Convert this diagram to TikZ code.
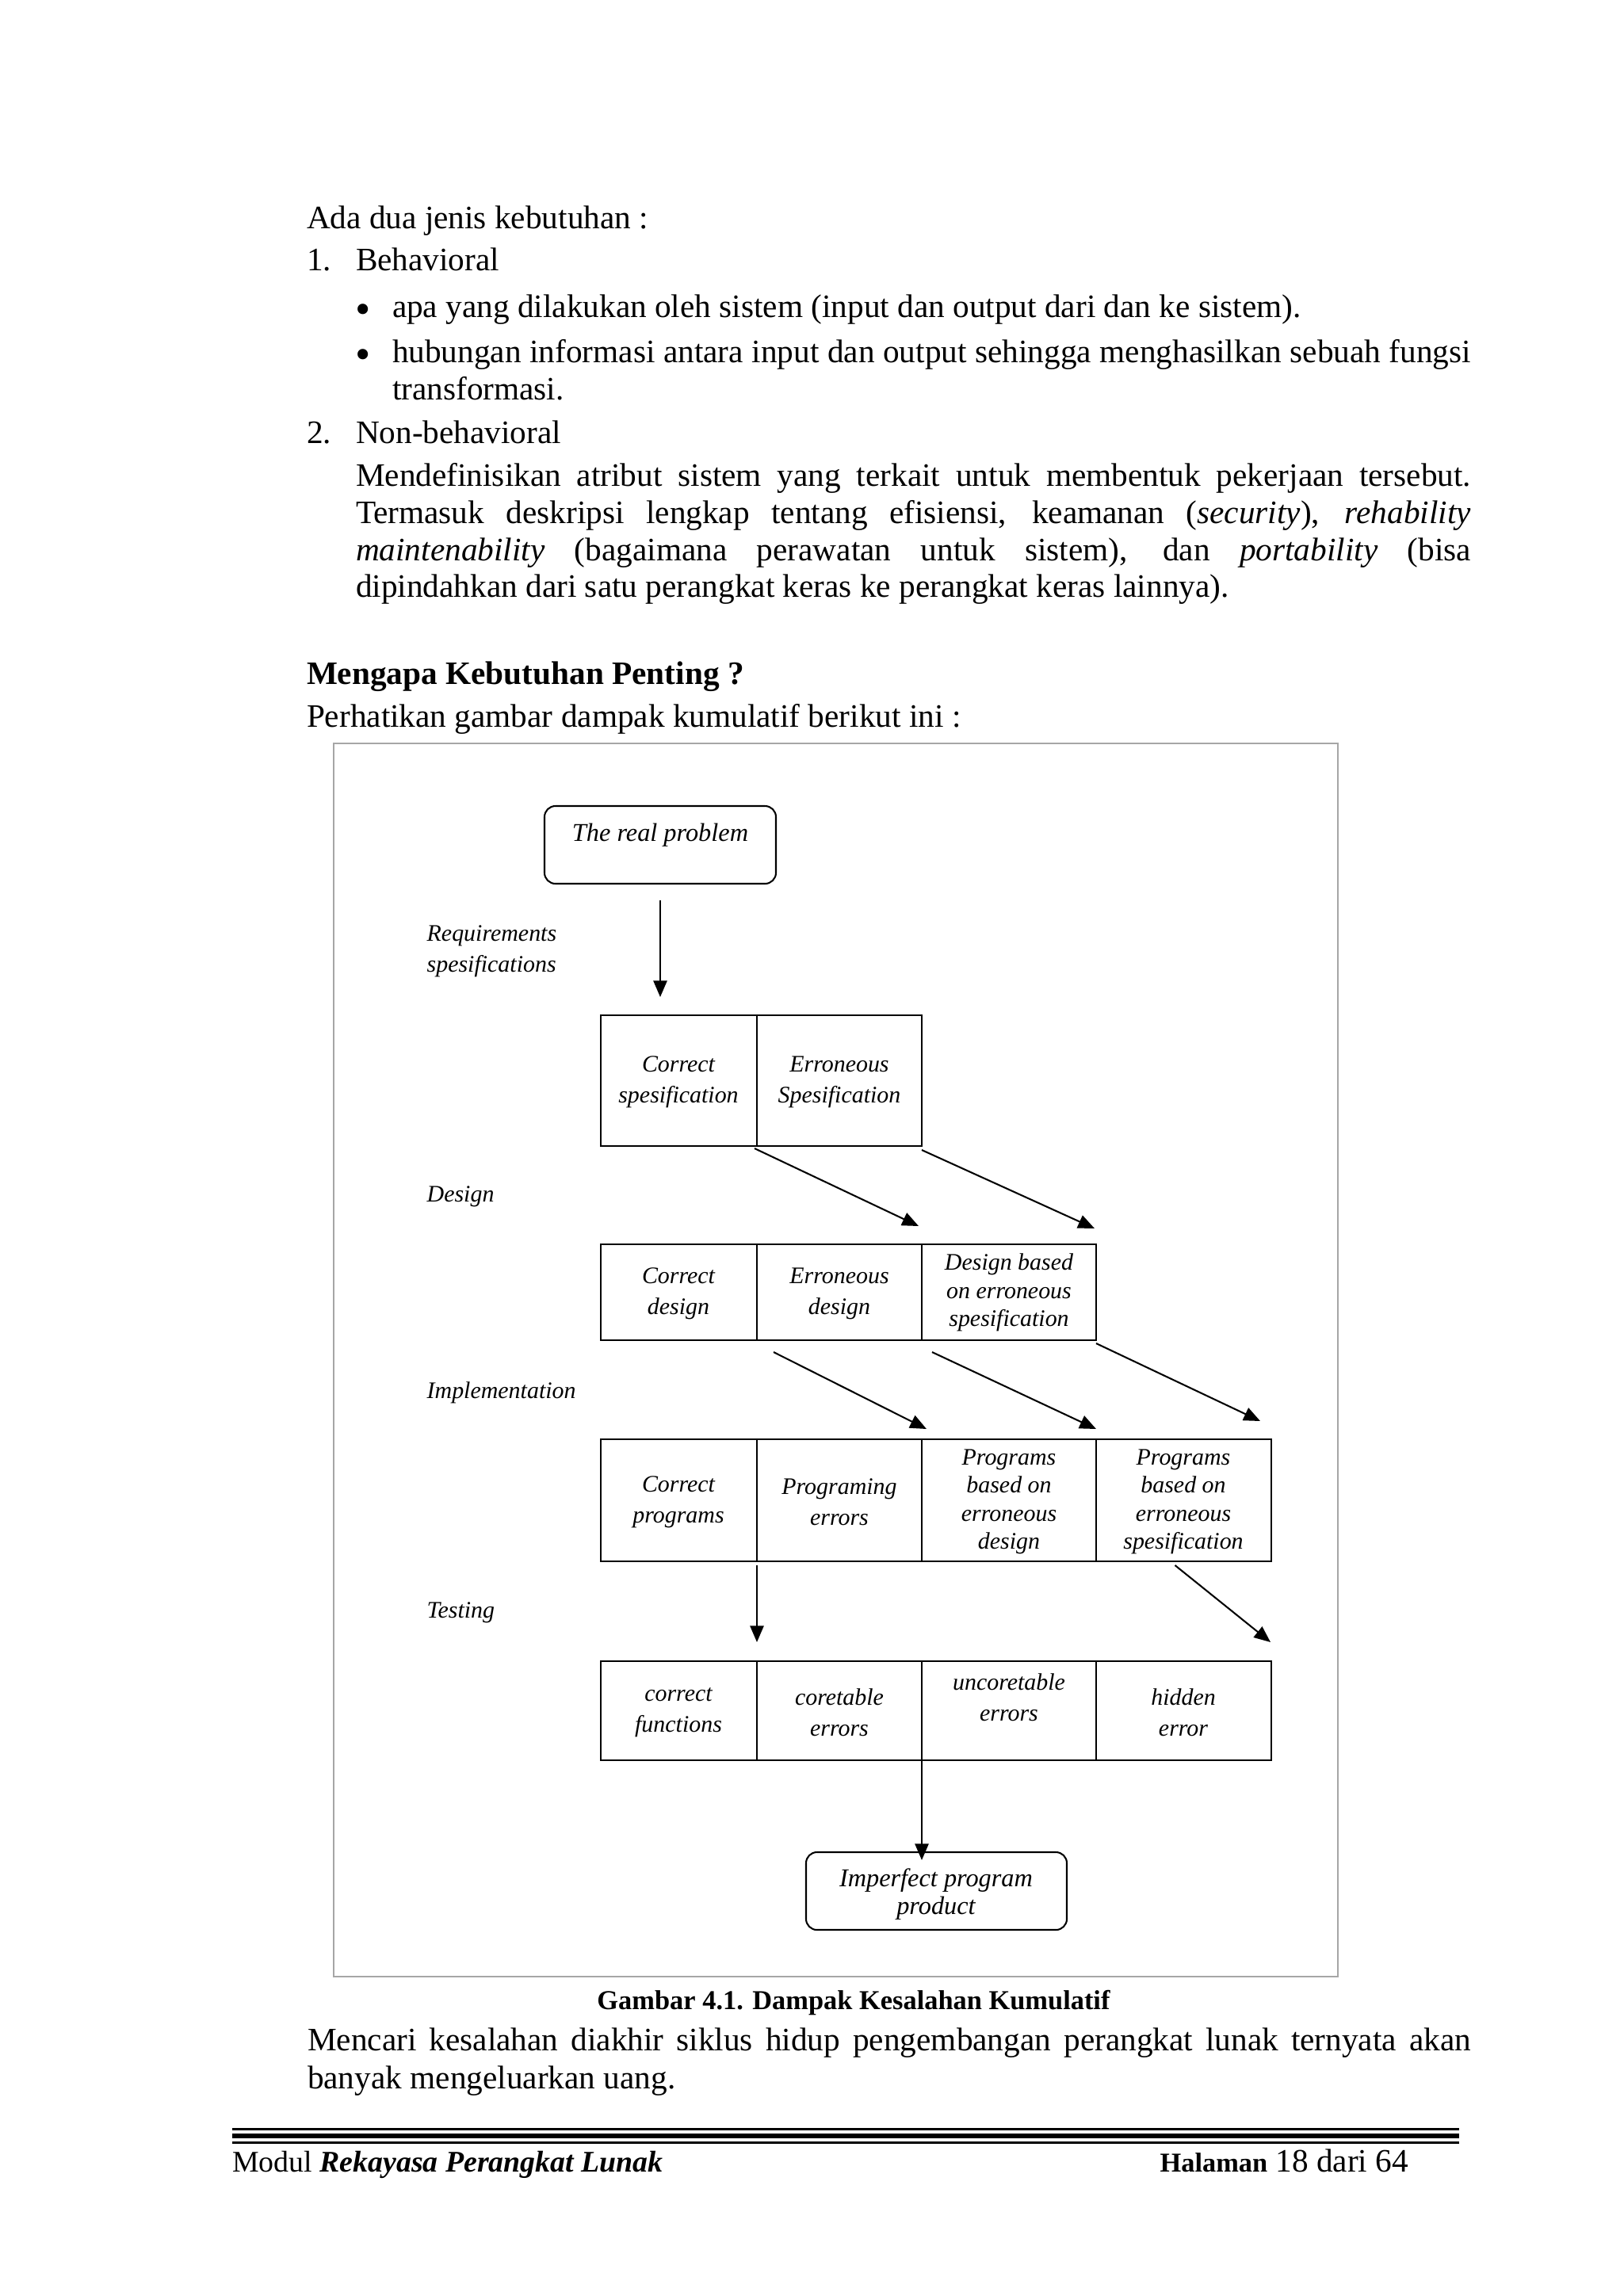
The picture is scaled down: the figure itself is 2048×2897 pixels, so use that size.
\documentclass[tikz,border=0pt]{standalone}
\usepackage{fontspec}
\setmainfont{Liberation Serif}
\usetikzlibrary{arrows.meta,calc}
\newdimen\pxu \pxu=0.290664pt
\begin{document}
\begin{tikzpicture}[x=0.290664pt, y=-0.290664pt,
  txt/.style={inner sep=0pt, outer sep=0pt, anchor=base west, font=\fontsize{12}{14}\selectfont},
  bul/.style={inner sep=0pt, outer sep=0pt, anchor=center, font=\fontsize{16}{16}\selectfont},
  cell/.style={draw, line width=0.6pt, inner sep=0pt, outer sep=0pt, anchor=north west},
  rbox/.style={draw, line width=0.6pt, rounded corners=4pt, inner sep=0pt, outer sep=0pt, anchor=north west},
  dlab/.style={font=\fontsize{8.7}{11.3}\selectfont\itshape, align=center, inner sep=0pt},
  dlabt/.style={font=\fontsize{8.7}{10.3}\selectfont\itshape, align=center, inner sep=0pt},
  slab/.style={font=\fontsize{8.7}{11.3}\selectfont\itshape, align=left, inner sep=0pt, anchor=west},
  blab/.style={font=\fontsize{9.4}{10.4}\selectfont\itshape, align=center, inner sep=0pt},
  arr/.style={-{Triangle[length=6pt,width=5pt]}, line width=0.6pt}]
\fill[white] (0,0) rectangle (2048,2897);
\useasboundingbox (0,0) rectangle (2048,2897);

% ---- body text ----
\node[txt] (l1) at (387,288) {Ada dua jenis kebutuhan :};
\node[txt] (l2n) at (387,341) {1.};
\node[txt] (l2) at (449,341) {Behavioral};
\node[bul] (bu1) at (458,396) {\textbullet};
\node[txt] (l3) at (495,400) {apa yang dilakukan oleh sistem (input dan output dari dan ke sistem).};
\node[bul] (bu2) at (458,453) {\textbullet};
\node[txt] (l4) at (495,457) {\makebox[1361\pxu][s]{hubungan informasi antara input dan output sehingga menghasilkan sebuah fungsi}};
\node[txt] (l5) at (495,504) {transformasi.};
\node[txt] (l6n) at (387,559) {2.};
\node[txt] (l6) at (449,559) {Non-behavioral};
\node[txt] (l7) at (449,613) {\makebox[1407\pxu][s]{Mendefinisikan atribut sistem yang terkait untuk membentuk pekerjaan tersebut.}};
\node[txt] (l8) at (449,660) {\makebox[1407\pxu][s]{Termasuk deskripsi lengkap tentang efisiensi, keamanan (\textit{security}), \textit{rehability}}};
\node[txt] (l9) at (449,707) {\makebox[1407\pxu][s]{\textit{maintenability} (bagaimana perawatan untuk sistem), dan \textit{portability} (bisa}};
\node[txt] (l10) at (449,753) {dipindahkan dari satu perangkat keras ke perangkat keras lainnya).};
\node[txt, font=\fontsize{12}{14}\selectfont\bfseries] (hd) at (387,863) {Mengapa Kebutuhan Penting ?};
\node[txt] (l11) at (387,917) {Perhatikan gambar dampak kumulatif berikut ini :};

% ---- figure frame ----
\draw[black!35, line width=2\pxu] (421,938) rectangle (1688,2494);

% ---- diagram ----
\node[rbox, minimum width=292\pxu, minimum height=98\pxu] (real) at (687,1017) {};
\node[blab] (realt) at (833,1054) {The real problem};

\node[slab] (lreq) at (538,1200) {Requirements\\spesifications};
\node[slab] (ldes) at (538,1510) {Design};
\node[slab] (limp) at (538,1757) {Implementation};
\node[slab] (ltest) at (538,2035) {Testing};

% spec row
\node[cell, minimum width=197\pxu, minimum height=165\pxu] (s1) at (758,1281) {};
\node[cell, minimum width=208\pxu, minimum height=165\pxu] (s2) at (955,1281) {};
\node[dlab] (s1t) at (856,1365) {Correct\\spesification};
\node[dlab] (s2t) at (1059,1365) {Erroneous\\Spesification};

% design row
\node[cell, minimum width=197\pxu, minimum height=121\pxu] (d1) at (758,1570) {};
\node[cell, minimum width=208\pxu, minimum height=121\pxu] (d2) at (955,1570) {};
\node[cell, minimum width=220\pxu, minimum height=121\pxu] (d3) at (1163,1570) {};
\node[dlab] (d1t) at (856,1632) {Correct\\design};
\node[dlab] (d2t) at (1059,1632) {Erroneous\\design};
\node[dlabt] (d3t) at (1273,1631) {Design based\\on erroneous\\spesification};

% implementation row
\node[cell, minimum width=197\pxu, minimum height=154\pxu] (i1) at (758,1816) {};
\node[cell, minimum width=208\pxu, minimum height=154\pxu] (i2) at (955,1816) {};
\node[cell, minimum width=220\pxu, minimum height=154\pxu] (i3) at (1163,1816) {};
\node[cell, minimum width=221\pxu, minimum height=154\pxu] (i4) at (1383,1816) {};
\node[dlab] (i1t) at (856,1895) {Correct\\programs};
\node[dlab] (i2t) at (1059,1895) {Programing\\errors};
\node[dlabt] (i3t) at (1273,1895) {Programs\\based on\\erroneous\\design};
\node[dlabt] (i4t) at (1493,1895) {Programs\\based on\\erroneous\\spesification};

% testing row
\node[cell, minimum width=197\pxu, minimum height=125\pxu] (t1) at (758,2096) {};
\node[cell, minimum width=208\pxu, minimum height=125\pxu] (t2) at (955,2096) {};
\node[cell, minimum width=220\pxu, minimum height=125\pxu] (t3) at (1163,2096) {};
\node[cell, minimum width=221\pxu, minimum height=125\pxu] (t4) at (1383,2096) {};
\node[dlab] (t1t) at (856,2161) {correct\\functions};
\node[dlab] (t2t) at (1059,2161) {coretable\\errors};
\node[dlab] (t3t) at (1273,2142) {uncoretable\\errors};
\node[dlab] (t4t) at (1493,2161) {hidden\\error};

\node[rbox, minimum width=329\pxu, minimum height=98\pxu] (imp) at (1017,2337) {};
\node[blab] (impt) at (1181,2390) {Imperfect program\\product};

% connectors
\draw[arr] ($(real.south)+(0,21)$) -- ($(real.south |- s1.north)+(0,-23)$);
\draw[arr] ($(s1.south east)+(-3,3)$) -- ($(d2.north east)+(-4,-23)$);
\draw[arr] ($(s2.south east)+(0,5)$) -- ($(d3.north east)+(-2,-20)$);
\draw[arr] ($(d1.south east)+(21,15)$) -- ($(i2.north east)+(6,-13)$);
\draw[arr] ($(d2.south east)+(13,15)$) -- ($(i3.north east)+(0,-13)$);
\draw[arr] ($(d3.south east)+(0,4)$) -- ($(i4.north east)+(-14,-23)$);
\draw[arr] ($(i1.south east)+(0,5)$) -- ($(t1.north east)+(0,-24)$);
\draw[arr] ($(i4.south)+(-11,5)$) -- ($(t4.north east)+(-1,-24)$);
\draw[arr] (t2.south east) -- ($(imp.north west)+(146,10)$);

% ---- caption & closing text ----
\node[inner sep=0pt, anchor=base, font=\fontsize{10}{12}\selectfont\bfseries] (cap) at (1077,2535) {Gambar 4.1. Dampak Kesalahan Kumulatif};
\node[txt] (l12) at (388,2587) {\makebox[1468\pxu][s]{Mencari kesalahan diakhir siklus hidup pengembangan perangkat lunak ternyata akan}};
\node[txt] (l13) at (388,2635) {banyak mengeluarkan uang.};

% ---- footer ----
\draw[line width=2.5\pxu] (293,2686.5) -- (1841,2686.5);
\draw[line width=6\pxu] (293,2695) -- (1841,2695);
\draw[line width=3\pxu] (293,2703.5) -- (1841,2703.5);
\node[txt, font=\fontsize{11}{13}\selectfont] (ft1) at (293,2740) {Modul \textbf{\textit{Rekayasa Perangkat Lunak}}};
\node[txt, anchor=base east] (ft2) at (1777,2740) {{\fontsize{10}{12}\selectfont\bfseries Halaman} 18 dari 64};
\end{tikzpicture}
\end{document}
